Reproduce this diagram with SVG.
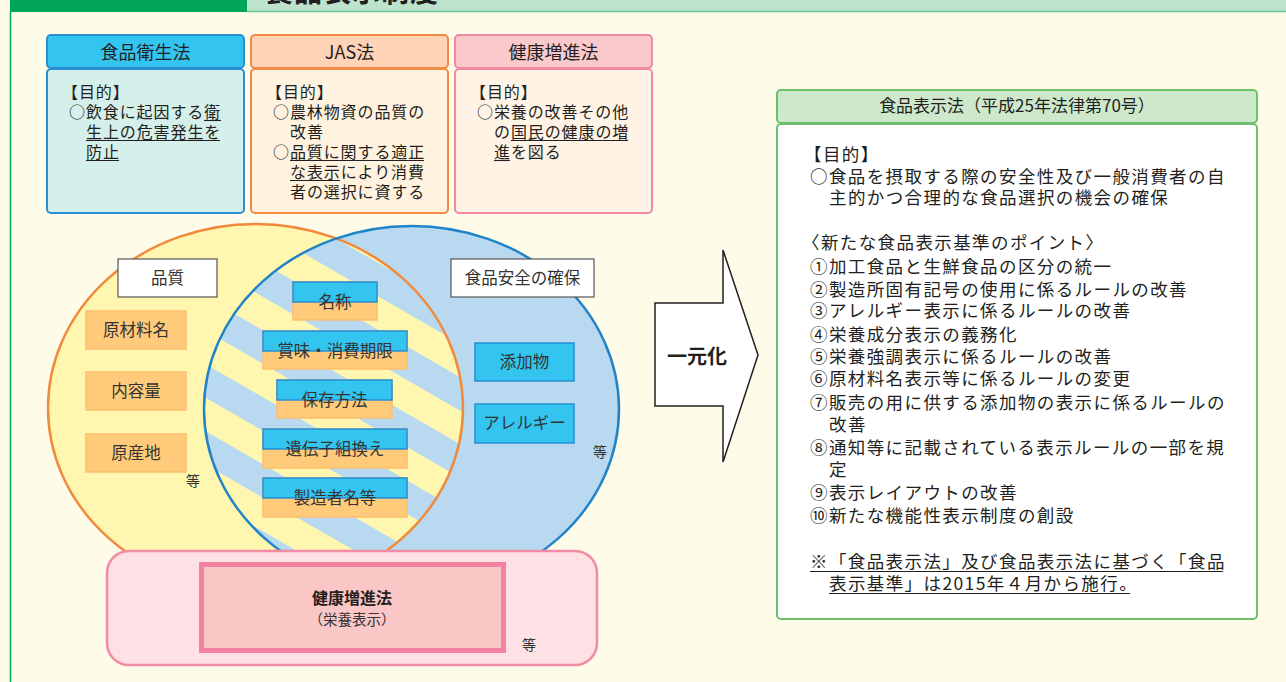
<svg xmlns="http://www.w3.org/2000/svg" width="1286" height="682" viewBox="0 0 1286 682">
<style>
text{font-family:"Noto Sans CJK JP","Noto Sans",sans-serif;fill:#231F20}
.b{font-size:16px;letter-spacing:0.9px}
.r{font-size:17.5px;letter-spacing:1.4px}
.h{font-size:18px;text-anchor:middle}
.lbl{font-size:16.5px;text-anchor:middle;fill:#333}
.etc{font-size:14px;text-anchor:middle;fill:#333}
.ul{stroke:#231F20;stroke-width:1.1}
.ob{fill:#FFCB7A;stroke:#FFBE6E;stroke-width:1.5}
.cb{fill:#33C5F0;stroke:#2A8ED2;stroke-width:1.5}
.wb{fill:#fff;stroke:#555;stroke-width:1.2}
</style>
<defs>
<pattern id="stripe" patternUnits="userSpaceOnUse" x="0" y="9.6" width="20" height="58" patternTransform="rotate(30)">
<rect x="0" y="0" width="20" height="29" fill="#FFF6B0"/>
<rect x="0" y="29" width="20" height="29" fill="#B8D9F0"/>
</pattern>
<clipPath id="leftClip"><ellipse cx="255.5" cy="408" rx="207.5" ry="184"/></clipPath>
</defs>
<rect width="1286" height="682" fill="#FEFBE9"/>
<g id="header">
<rect x="10" y="0" width="237" height="12" fill="#00A55A"/>
<rect x="247" y="0" width="1039" height="11" fill="#BDE3CD"/>
<line x1="247" y1="11.5" x2="1286" y2="11.5" stroke="#6CC597" stroke-width="1.5"/>
<line x1="10.5" y1="12" x2="10.5" y2="682" stroke="#00A55A" stroke-width="1.5"/>
<text x="265" y="2" style="font-size:28px;font-weight:bold;letter-spacing:1px">食品表示制度</text>
</g>
<g id="box-shokuhin-eisei">
<rect x="47" y="35" width="197" height="33" rx="4" fill="#33C5F0" stroke="#2A8ED2" stroke-width="2"/>
<rect x="47" y="69" width="197" height="144" rx="4" fill="#D5F0EA" stroke="#2A8ED2" stroke-width="2"/>
<text class="h" x="145.5" y="58.5">食品衛生法</text>
<text class="b" x="62" y="98">【目的】</text>
<text class="b" x="69" y="118">○飲食に起因する衛</text>
<text class="b" x="86" y="138">生上の危害発生を</text>
<text class="b" x="86" y="158">防止</text>
<line class="ul" x1="204" y1="120.5" x2="221" y2="120.5"/>
<line class="ul" x1="86" y1="140.5" x2="220" y2="140.5"/>
<line class="ul" x1="86" y1="160.5" x2="119" y2="160.5"/>
</g>
<g id="box-jas">
<rect x="251" y="35" width="197" height="33" rx="4" fill="#FFD3B5" stroke="#F28A48" stroke-width="2"/>
<rect x="251" y="69" width="197" height="144" rx="4" fill="#FFF3E0" stroke="#F28A48" stroke-width="2"/>
<text class="h" x="349.5" y="58.5">JAS法</text>
<text class="b" x="266" y="98">【目的】</text>
<text class="b" x="273" y="118">○農林物資の品質の</text>
<text class="b" x="290" y="138">改善</text>
<text class="b" x="273" y="158">○品質に関する適正</text>
<text class="b" x="290" y="178">な表示により消費</text>
<text class="b" x="290" y="198">者の選択に資する</text>
<line class="ul" x1="290" y1="160.5" x2="424" y2="160.5"/>
<line class="ul" x1="290" y1="180.5" x2="340" y2="180.5"/>
</g>
<g id="box-kenko">
<rect x="455" y="35" width="197" height="33" rx="4" fill="#FBC8CC" stroke="#F08AA2" stroke-width="2"/>
<rect x="455" y="69" width="197" height="144" rx="4" fill="#FFF3E6" stroke="#F08AA2" stroke-width="2"/>
<text class="h" x="553.5" y="58.5">健康増進法</text>
<text class="b" x="470" y="98">【目的】</text>
<text class="b" x="477" y="118">○栄養の改善その他</text>
<text class="b" x="494" y="138">の国民の健康の増</text>
<text class="b" x="494" y="158">進を図る</text>
<line class="ul" x1="511" y1="140.5" x2="628" y2="140.5"/>
<line class="ul" x1="494" y1="160.5" x2="510" y2="160.5"/>
</g>
<g id="venn">
<ellipse cx="255.5" cy="408" rx="207.5" ry="184" fill="#FFF6B0"/>
<ellipse cx="411.5" cy="409" rx="207.5" ry="183" fill="#B8D9F0"/>
<ellipse cx="411.5" cy="409" rx="207.5" ry="183" fill="url(#stripe)" clip-path="url(#leftClip)"/>
<ellipse cx="255.5" cy="408" rx="207.5" ry="184" fill="none" stroke="#F08A3C" stroke-width="2.5"/>
<ellipse cx="411.5" cy="409" rx="207.5" ry="183" fill="none" stroke="#2284C8" stroke-width="2.5"/>
</g>
<g id="label-hinshitsu">
<rect class="wb" x="118" y="259" width="99" height="38"/>
<text class="lbl" x="167.5" y="284">品質</text>
</g>
<g id="label-anzen">
<rect class="wb" x="451" y="259" width="143" height="38"/>
<text class="lbl" x="522.5" y="284">食品安全の確保</text>
</g>
<g id="item-genzairyo">
<rect class="ob" x="86" y="311" width="100" height="38"/>
<text class="lbl" x="136" y="336">原材料名</text>
</g>
<g id="item-naiyoryo">
<rect class="ob" x="86" y="372" width="100" height="38"/>
<text class="lbl" x="136" y="397">内容量</text>
</g>
<g id="item-gensanchi">
<rect class="ob" x="86" y="434" width="100" height="38"/>
<text class="lbl" x="136" y="459">原産地</text>
</g>
<text class="etc" x="193" y="486">等</text>
<g id="item-meisho">
<rect class="ob" x="293" y="282" width="84" height="38"/>
<rect class="cb" x="293" y="282" width="84" height="20"/>
<text class="lbl" x="335" y="308">名称</text>
</g>
<g id="item-kigen">
<rect class="ob" x="263" y="331" width="144" height="38"/>
<rect class="cb" x="263" y="331" width="144" height="20"/>
<text class="lbl" x="335" y="357">賞味・消費期限</text>
</g>
<g id="item-hozon">
<rect class="ob" x="277" y="380" width="115" height="38"/>
<rect class="cb" x="277" y="380" width="115" height="20"/>
<text class="lbl" x="334.5" y="406">保存方法</text>
</g>
<g id="item-idenshi">
<rect class="ob" x="263" y="429" width="144" height="39"/>
<rect class="cb" x="263" y="429" width="144" height="20"/>
<text class="lbl" x="335" y="455">遺伝子組換え</text>
</g>
<g id="item-seizosha">
<rect class="ob" x="263" y="478" width="144" height="39"/>
<rect class="cb" x="263" y="478" width="144" height="20"/>
<text class="lbl" x="335" y="504">製造者名等</text>
</g>
<g id="item-tenkabutsu">
<rect class="cb" x="475" y="343" width="99" height="38" stroke-width="2"/>
<text class="lbl" x="524.5" y="368">添加物</text>
</g>
<g id="item-allergy">
<rect class="cb" x="475" y="404" width="99" height="39" stroke-width="2"/>
<text class="lbl" x="524.5" y="429">アレルギー</text>
</g>
<text class="etc" x="600" y="457">等</text>
<g id="box-eiyo">
<rect x="107" y="551" width="490" height="114" rx="22" fill="#FDE1E4" stroke="#F28BA5" stroke-width="2.5"/>
<rect x="201.5" y="564.5" width="302" height="86" fill="#FBC6C6" stroke="#F2829F" stroke-width="5"/>
<text x="352" y="604" style="font-size:16px;font-weight:bold;text-anchor:middle">健康増進法</text>
<text x="352" y="625" style="font-size:14.5px;text-anchor:middle;fill:#333">（栄養表示）</text>
<text class="etc" x="529" y="650">等</text>
</g>
<g id="connectors">
<polygon points="655,303 723,303 723,250 758,355 723,462 723,406 655,406" fill="#FFFFFF" stroke="#231F20" stroke-width="1.5" stroke-linejoin="miter"/>
<text x="697" y="364" style="font-size:20px;font-weight:bold;text-anchor:middle">一元化</text>
</g>
<g id="box-hyoji">
<rect x="777" y="90" width="480" height="33" rx="4" fill="#CDE8CB" stroke="#6CC06C" stroke-width="2"/>
<rect x="777" y="124" width="480" height="495" rx="4" fill="#FFFFFF" stroke="#6CC06C" stroke-width="2"/>
<text x="1017" y="112" style="font-size:17px;text-anchor:middle">食品表示法（平成25年法律第70号）</text>
<text class="r" x="804" y="161">【目的】</text>
<text class="r" x="810" y="183">○食品を摂取する際の安全性及び一般消費者の自</text>
<text class="r" x="829" y="204">主的かつ合理的な食品選択の機会の確保</text>
<text class="r" x="802" y="249">〈新たな食品表示基準のポイント〉</text>
<text class="r" x="810" y="273">①加工食品と生鮮食品の区分の統一</text>
<text class="r" x="810" y="296">②製造所固有記号の使用に係るルールの改善</text>
<text class="r" x="810" y="317">③アレルギー表示に係るルールの改善</text>
<text class="r" x="810" y="341">④栄養成分表示の義務化</text>
<text class="r" x="810" y="363">⑤栄養強調表示に係るルールの改善</text>
<text class="r" x="810" y="385">⑥原材料名表示等に係るルールの変更</text>
<text class="r" x="810" y="409">⑦販売の用に供する添加物の表示に係るルールの</text>
<text class="r" x="829" y="431">改善</text>
<text class="r" x="810" y="454">⑧通知等に記載されている表示ルールの一部を規</text>
<text class="r" x="829" y="476">定</text>
<text class="r" x="810" y="499">⑨表示レイアウトの改善</text>
<text class="r" x="810" y="522">⑩新たな機能性表示制度の創設</text>
<text class="r" x="810" y="568">※「食品表示法」及び食品表示法に基づく「食品</text>
<text class="r" x="829" y="590">表示基準」は2015年４月から施行。</text>
<line class="ul" x1="810" y1="571.5" x2="1223" y2="571.5"/>
<line class="ul" x1="829" y1="593.5" x2="1130" y2="593.5"/>
</g>
</svg>
